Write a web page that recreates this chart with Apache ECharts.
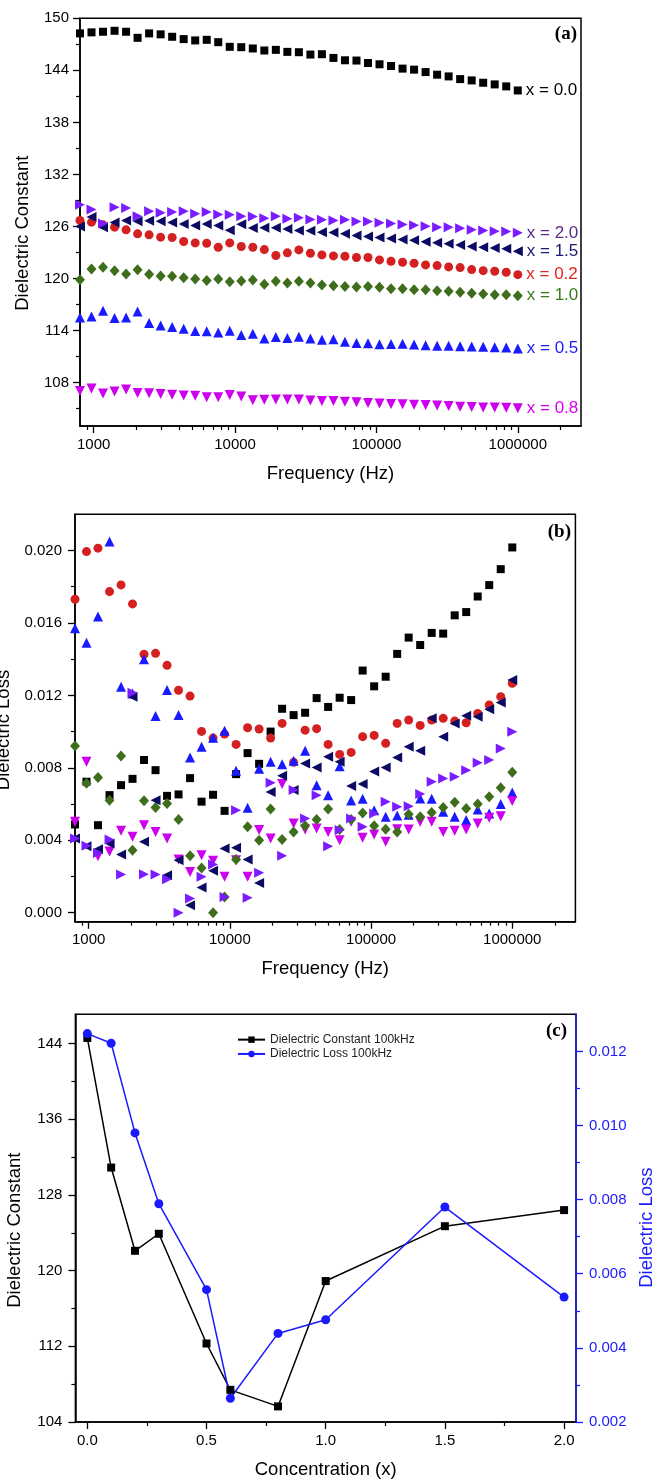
<!DOCTYPE html>
<html>
<head>
<meta charset="utf-8">
<script src="https://cdn.jsdelivr.net/npm/echarts@6.0.0/dist/echarts.min.js"></script>
<style>
  html, body { margin: 0; padding: 0; background: #fff; }
  #chart { width: 654px; height: 1482px; }
</style>
</head>
<body>
<div id="chart"></div>
<script>
// frequency sweep (Hz), shared by panels (a) and (b)
var freq = [800, 965, 1164, 1405, 1695, 2044, 2466, 2975, 3589, 4330, 5224, 6302, 7603, 9172, 11066, 13350,
  16105, 19429, 23439, 28277, 34113, 41154, 49648, 59895, 72257, 87170, 105162, 126867, 153052, 184641,
  222751, 268726, 324190, 391102, 471825, 569208, 686690, 828423, 1000000];

// (a) dielectric constant
var dcX00 = [148.26,148.38,148.45,148.56,148.45,147.75,148.26,148.15,147.87,147.6,147.45,147.52,147.25,146.71,146.67,146.52,146.29,146.36,146.13,146.09,145.82,145.86,145.43,145.16,145.13,144.85,144.70,144.5,144.2,144.08,143.8,143.5,143.3,142.99,142.84,142.57,142.38,142.15,141.68];
var dcX02 = [126.69,126.5,126.19,125.92,125.61,125.15,125.04,124.77,124.73,124.27,124.11,124.07,123.61,124.11,123.69,123.61,123.34,122.65,122.96,123.3,122.92,122.72,122.61,122.57,122.42,122.42,122.15,121.99,121.88,121.76,121.57,121.49,121.34,121.26,121.03,120.91,120.84,120.72,120.45];
var dcX05 = [115.52,115.62,116.29,115.44,115.5,116.21,114.87,114.6,114.42,114.2,113.94,113.92,113.78,113.98,113.48,113.64,113.09,113.25,113.15,113.3,113.1,112.95,113.0,112.7,112.57,112.55,112.42,112.44,112.48,112.4,112.3,112.25,112.24,112.2,112.17,112.13,112.09,112.05,111.94];
var dcX08 = [107.04,107.33,106.75,106.98,107.2,106.81,106.77,106.7,106.6,106.52,106.5,106.31,106.3,106.58,106.41,105.98,106.04,106.06,106.05,106.06,105.93,105.89,105.87,105.8,105.74,105.66,105.58,105.54,105.52,105.46,105.42,105.36,105.31,105.23,105.19,105.12,105.12,105.1,105.04];
var dcX10 = [119.87,121.11,121.3,120.91,120.53,121.01,120.49,120.28,120.26,120.1,119.95,119.76,119.95,119.64,119.72,119.84,119.33,119.68,119.49,119.68,119.49,119.26,119.18,119.07,119.03,119.07,118.99,118.83,118.83,118.72,118.72,118.6,118.53,118.41,118.29,118.22,118.14,118.14,118.02];
var dcX15 = [126.0,127.1,125.9,126.45,126.7,126.6,126.65,126.6,126.45,126.3,126.1,126.3,126.1,125.58,126.25,125.82,125.85,125.85,125.7,125.55,125.5,125.35,125.3,125.15,124.95,124.85,124.72,124.62,124.5,124.42,124.25,124.12,124.0,123.88,123.69,123.61,123.53,123.42,123.15];
var dcX20 = [128.5,127.97,126.35,128.23,128.12,127.19,127.77,127.58,127.66,127.77,127.46,127.66,127.39,127.35,127.19,127.16,126.96,127.19,126.89,127.0,126.81,126.77,126.69,126.77,126.58,126.58,126.42,126.35,126.23,126.15,126.04,125.92,125.92,125.81,125.61,125.54,125.46,125.42,125.27];

// (b) dielectric loss
var dlX00 = [0.00487,0.00723,0.00483,0.00649,0.00704,0.00739,0.00843,0.00787,0.00645,0.00653,0.00743,0.00613,0.00651,0.00562,0.00765,0.00881,0.00822,0.01,0.01126,0.01091,0.01104,0.01185,0.01136,0.01187,0.01174,0.01337,0.0125,0.01303,0.01429,0.01519,0.01478,0.01545,0.01541,0.01642,0.0166,0.01746,0.01809,0.01897,0.02017];
var dlX02 = [0.01731,0.01994,0.02013,0.01773,0.0181,0.01705,0.01427,0.01432,0.01366,0.01228,0.01196,0.01001,0.00964,0.00986,0.00929,0.01021,0.01014,0.00964,0.01045,0.0083,0.01008,0.01016,0.00929,0.00874,0.00885,0.00972,0.00979,0.00935,0.01045,0.01064,0.01034,0.01064,0.01073,0.01058,0.01049,0.011,0.01147,0.01193,0.01267];
var dlX05 = [0.01571,0.01491,0.01635,0.0205,0.01248,0.0121,0.014,0.01086,0.0123,0.01091,0.00857,0.00916,0.00966,0.01005,0.00784,0.00579,0.00795,0.00833,0.0082,0.00839,0.00894,0.00704,0.00649,0.00809,0.0062,0.00629,0.00566,0.00529,0.00537,0.0054,0.0063,0.00629,0.00557,0.00529,0.00511,0.0057,0.00548,0.006,0.00664];
var dlX08 = [0.00502,0.00833,0.00312,0.00338,0.00452,0.00419,0.00483,0.00446,0.0041,0.00293,0.00225,0.00317,0.00286,0.00198,0.0029,0.00198,0.00456,0.0041,0.0071,0.00492,0.00459,0.00465,0.00446,0.004,0.00502,0.00413,0.00432,0.00391,0.0046,0.00459,0.00502,0.00502,0.00446,0.00452,0.00459,0.00493,0.00524,0.00533,0.00616];
var dlX10 = [0.0092,0.00714,0.00747,0.00621,0.00865,0.00345,0.00618,0.00581,0.00603,0.00515,0.00314,0.00247,0.0,0.00087,0.00293,0.00474,0.004,0.00572,0.00404,0.00446,0.0048,0.00515,0.00572,0.00459,0.00515,0.00551,0.0048,0.00461,0.00446,0.00544,0.00529,0.00553,0.00581,0.0061,0.00575,0.006,0.0064,0.0069,0.00775];
var dlX15 = [0.00409,0.00367,0.0035,0.00382,0.00321,0.01193,0.00391,0.00621,0.00207,0.0029,0.00041,0.00139,0.00231,0.00354,0.00358,0.00293,0.00164,0.00667,0.00756,0.00677,0.00824,0.00802,0.00861,0.00833,0.00699,0.0071,0.0078,0.00802,0.00857,0.00916,0.00894,0.01073,0.00972,0.01045,0.01088,0.01082,0.01123,0.0116,0.01285];
var dlX20 = [0.0041,0.0037,0.0033,0.00404,0.0021,0.01215,0.00212,0.0021,0.00185,0.0,0.00078,0.00198,0.00266,0.00087,0.00566,0.00082,0.0022,0.00717,0.00314,0.00677,0.0052,0.00649,0.00367,0.00456,0.0052,0.00474,0.00548,0.00612,0.00585,0.00588,0.00655,0.00723,0.00741,0.0075,0.00787,0.00828,0.00843,0.00907,0.00999];

// (c) values at 100 kHz vs concentration
var conc = [0, 0.1, 0.2, 0.3, 0.5, 0.6, 0.8, 1.0, 1.5, 2.0];
var const100k = [144.6, 130.9, 122.1, 123.9, 112.3, 107.4, 105.65, 118.9, 124.7, 126.4];
var loss100k = [0.01248, 0.01222, 0.0098, 0.00789, 0.00557, 0.00264, 0.00439, 0.00476, 0.0078, 0.00537];

// tick labels
var freqTicks = [1000, 10000, 100000, 1000000];
var freqMinor = [900, 2000, 3000, 4000, 5000, 6000, 7000, 8000, 9000, 20000, 30000, 40000, 50000, 60000, 70000, 80000, 90000,
  200000, 300000, 400000, 500000, 600000, 700000, 800000, 900000, 2000000];
var dcTicks = [108, 114, 120, 126, 132, 138, 144, 150];
var dcMinor = [105, 111, 117, 123, 129, 135, 141, 147];
var dlTicks = [0, 0.004, 0.008, 0.012, 0.016, 0.020];
var dlMinor = [0.002, 0.006, 0.010, 0.014, 0.018];
var concTicks = [0, 0.5, 1.0, 1.5, 2.0];
var concMinor = [0.25, 0.75, 1.25, 1.75];
var cTicks = [104, 112, 120, 128, 136, 144];
var cMinor = [108, 116, 124, 132, 140];
var lTicks = [0.002, 0.004, 0.006, 0.008, 0.010, 0.012];
var lMinor = [0.003, 0.005, 0.007, 0.009, 0.011];

var FONT = '"Liberation Sans", Arial, sans-serif';
var BLUE = '#1a1aff';

function mainAxis(grid, type, min, max, ticks, fmt, extra) {
  var ax = {
    gridIndex: grid, type: type, min: min, max: max,
    splitLine: { show: false },
    axisLine: { onZero: false, lineStyle: { color: '#000', width: 1.5 } },
    axisTick: { customValues: ticks, length: 7, lineStyle: { color: '#000', width: 1.3 } },
    axisLabel: { customValues: ticks, formatter: fmt, fontSize: 15, color: '#000', fontFamily: FONT, margin: 11 },
    nameLocation: 'middle',
    nameTextStyle: { fontSize: 18.5, color: '#000', fontFamily: FONT }
  };
  if (type === 'log') ax.logBase = 10;
  for (var k in extra) ax[k] = extra[k];
  return ax;
}
function minorAxis(grid, type, min, max, ticks, position, color) {
  var ax = {
    gridIndex: grid, type: type, min: min, max: max, position: position,
    splitLine: { show: false },
    axisLine: { show: false, onZero: false },
    axisTick: { customValues: ticks, length: 4, lineStyle: { color: color || '#000', width: 1.2 } },
    axisLabel: { show: false }
  };
  if (type === 'log') ax.logBase = 10;
  return ax;
}

var fmtInt = function (v) { return String(Math.round(v)); };
var fmt3 = function (v) { return v.toFixed(3); };
var fmt1 = function (v) { return v.toFixed(1); };

var xAxes = [
  mainAxis(0, 'log', 800, 2800000, freqTicks, fmtInt, { position: 'bottom', name: 'Frequency (Hz)', nameGap: 38 }),
  minorAxis(0, 'log', 800, 2800000, freqMinor, 'bottom'),
  mainAxis(1, 'log', 800, 2800000, freqTicks, fmtInt, { position: 'bottom', name: 'Frequency (Hz)', nameGap: 38 }),
  minorAxis(1, 'log', 800, 2800000, freqMinor, 'bottom'),
  mainAxis(2, 'value', -0.05, 2.05, concTicks, fmt1, { position: 'bottom', name: 'Concentration (x)', nameGap: 38 }),
  minorAxis(2, 'value', -0.05, 2.05, concMinor, 'bottom')
];

var yAxes = [
  mainAxis(0, 'value', 103, 150, dcTicks, fmtInt, { position: 'left', name: 'Dielectric Constant', nameGap: 48 }),
  minorAxis(0, 'value', 103, 150, dcMinor, 'left'),
  mainAxis(1, 'value', -0.0005, 0.022, dlTicks, fmt3, { position: 'left', name: 'Dielectric Loss', nameGap: 61 }),
  minorAxis(1, 'value', -0.0005, 0.022, dlMinor, 'left'),
  mainAxis(2, 'value', 104, 147.1, cTicks, fmtInt, { position: 'left', name: 'Dielectric Constant', nameGap: 51 }),
  minorAxis(2, 'value', 104, 147.1, cMinor, 'left'),
  mainAxis(2, 'value', 0.002, 0.013, lTicks, fmt3, { position: 'right', name: 'Dielectric Loss', nameGap: 60, nameRotate: 90 }),
  minorAxis(2, 'value', 0.002, 0.013, lMinor, 'right', BLUE)
];
// shift rotated names slightly below centre, like the figure
yAxes[0].nameTextStyle.padding = [0, 22, 0, 0];
yAxes[2].nameTextStyle.padding = [0, 24, 0, 0];
yAxes[4].nameTextStyle.padding = [0, 24, 0, 0];
yAxes[6].nameTextStyle = { fontSize: 18.5, color: BLUE, fontFamily: FONT, padding: [0, 19, 0, 0] };
yAxes[6].axisLine.lineStyle.color = BLUE;
yAxes[6].axisTick.lineStyle.color = BLUE;
yAxes[6].axisLabel.color = BLUE;
yAxes[6].axisLabel.margin = 13;
yAxes[4].axisLabel.margin = 13;
yAxes[2].axisLabel.margin = 13;

var groups = [
  { name: 'x = 0.0', dc: dcX00, dl: dlX00, color: '#000000', label: '#000000', symbol: 'rect', size: 8, rot: 0 },
  { name: 'x = 0.2', dc: dcX02, dl: dlX02, color: '#d42020', label: '#e0251b', symbol: 'circle', size: 9, rot: 0 },
  { name: 'x = 0.5', dc: dcX05, dl: dlX05, color: BLUE, label: BLUE, symbol: 'triangle', size: 10, rot: 0 },
  { name: 'x = 0.8', dc: dcX08, dl: dlX08, color: '#cc00ee', label: '#d400f0', symbol: 'triangle', size: 10, rot: 180 },
  { name: 'x = 1.0', dc: dcX10, dl: dlX10, color: '#3e6e1c', label: '#3a7a1a', symbol: 'diamond', size: [10, 11], rot: 0 },
  { name: 'x = 1.5', dc: dcX15, dl: dlX15, color: '#0b0b63', label: '#1a1a6e', symbol: 'triangle', size: 10, rot: 90 },
  { name: 'x = 2.0', dc: dcX20, dl: dlX20, color: '#7a1cff', label: '#5b2a86', symbol: 'triangle', size: 10, rot: -90 }
];

var series = [];
groups.forEach(function (g) {
  var last = freq.length - 1;
  series.push({
    name: g.name + ' (a)', type: 'scatter', xAxisIndex: 0, yAxisIndex: 0,
    symbol: g.symbol, symbolSize: g.size, symbolRotate: g.rot,
    itemStyle: { color: g.color, opacity: 1 },
    label: {
      show: true, position: 'right', distance: 4, color: g.label, fontSize: 17, fontFamily: FONT,
      formatter: function (p) { return p.dataIndex === last ? g.name : ''; }
    },
    data: freq.map(function (f, i) { return [f, g.dc[i]]; })
  });
});
groups.forEach(function (g) {
  series.push({
    name: g.name + ' (b)', type: 'scatter', xAxisIndex: 2, yAxisIndex: 2,
    symbol: g.symbol, symbolSize: g.size, symbolRotate: g.rot,
    itemStyle: { color: g.color, opacity: 1 },
    data: freq.map(function (f, i) { return [f, g.dl[i]]; })
  });
});
series.push({
  name: 'Dielectric Constant 100kHz', type: 'line', xAxisIndex: 4, yAxisIndex: 4,
  symbol: 'rect', symbolSize: 8, color: '#000',
  itemStyle: { color: '#000', opacity: 1 },
  lineStyle: { width: 1.5, color: '#000' },
  data: conc.map(function (c, i) { return [c, const100k[i]]; })
});
series.push({
  name: 'Dielectric Loss 100kHz', type: 'line', xAxisIndex: 4, yAxisIndex: 6,
  symbol: 'circle', symbolSize: 9, color: BLUE,
  itemStyle: { color: BLUE, opacity: 1 },
  lineStyle: { width: 1.5, color: BLUE },
  data: conc.map(function (c, i) { return [c, loss100k[i]]; })
});

function panelTag(text, x, y) {
  return {
    type: 'text', x: x, y: y,
    style: { text: text, textAlign: 'right', textVerticalAlign: 'top', fill: '#000',
      font: 'bold 19px "Liberation Serif", "Times New Roman", serif' }
  };
}

var option = {
  backgroundColor: '#fff',
  animation: false,
  grid: [
    { left: 80, top: 18.3, width: 501, height: 407.7, show: true, borderColor: '#000', borderWidth: 1.5, outerBoundsMode: 'none' },
    { left: 75, top: 514.3, width: 500.4, height: 407.4, show: true, borderColor: '#000', borderWidth: 1.5, outerBoundsMode: 'none' },
    { left: 75.4, top: 1014.3, width: 500.6, height: 407.7, show: true, borderColor: '#000', borderWidth: 1.5, outerBoundsMode: 'none' }
  ],
  xAxis: xAxes,
  yAxis: yAxes,
  legend: {
    data: ['Dielectric Constant 100kHz', 'Dielectric Loss 100kHz'],
    orient: 'vertical', left: 232, top: 1027.5,
    itemWidth: 27, itemHeight: 8, itemGap: 0,
    textStyle: { fontSize: 12, color: '#222', fontFamily: FONT, lineHeight: 14.3 }
  },
  graphic: [
    panelTag('(a)', 577, 25),
    panelTag('(b)', 571, 523),
    panelTag('(c)', 567, 1022)
  ],
  series: series
};

var myChart = echarts.init(document.getElementById('chart'));
myChart.setOption(option);
window.addEventListener('resize', function () {
  myChart.resize();
});
</script>
</body>
</html>
